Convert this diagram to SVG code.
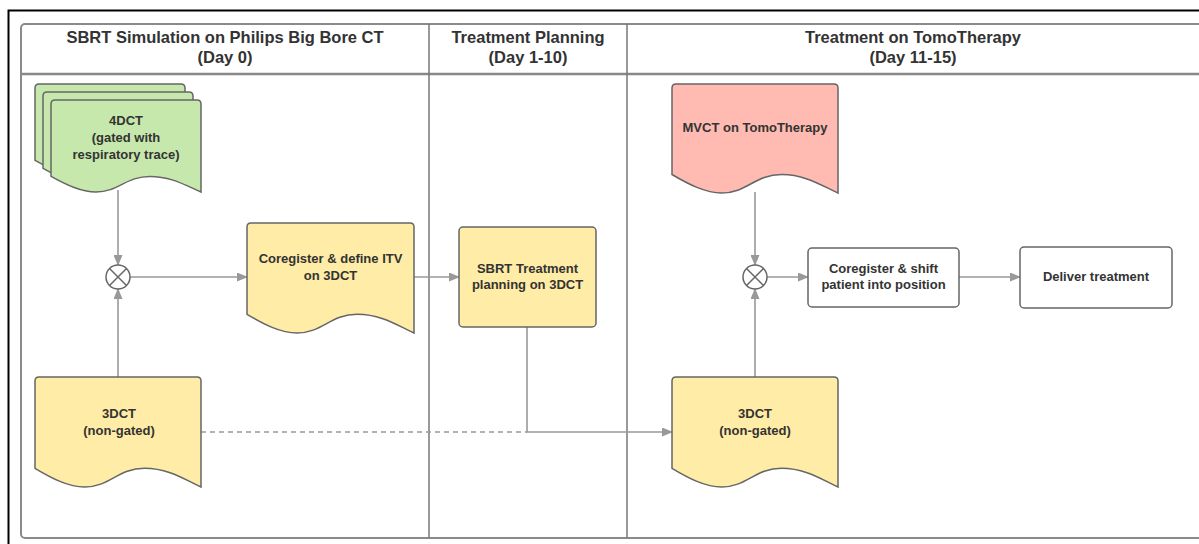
<svg xmlns="http://www.w3.org/2000/svg" width="1199" height="544" viewBox="0 0 1199 544">
<defs>
<style>
.hdr{font-family:"Liberation Sans",Arial,sans-serif;font-weight:bold;font-size:16.5px;fill:#333;text-anchor:middle}
.lbl{font-family:"Liberation Sans",Arial,sans-serif;font-weight:bold;font-size:13px;fill:#333;text-anchor:middle}
.pool{fill:#fff;stroke:#8a8a8a;stroke-width:2}
.lane{stroke:#777;stroke-width:1.5;fill:none}
.green{fill:#c7e8ac;stroke:#666;stroke-width:1.5}
.yellow{fill:#ffeca6;stroke:#666;stroke-width:1.5}
.red{fill:#ffbbb1;stroke:#666;stroke-width:1.5}
.white{fill:#fff;stroke:#666;stroke-width:1.5}
.gate{fill:#fff;stroke:#666;stroke-width:1.5}
.conn{fill:none;stroke:#999;stroke-width:1.6}
.dash{stroke-dasharray:5 4}
</style>
<marker id="arr" markerUnits="userSpaceOnUse" markerWidth="11" markerHeight="9" refX="10" refY="4.5" orient="auto">
<path d="M0,0 L11,4.5 L0,9 z" fill="#999"/>
</marker>
</defs>
<rect width="1199" height="544" fill="#fff"/>
<rect x="8.5" y="10.5" width="1210" height="560" fill="none" stroke="#000" stroke-width="2"/>
<g id="pool">
<rect class="pool" x="21" y="24" width="1200" height="514" rx="4"/>
<line x1="21" y1="74" x2="1199" y2="74" stroke="#888" stroke-width="2.5"/>
<line class="lane" x1="429" y1="24" x2="429" y2="538"/>
<line class="lane" x1="627" y1="24" x2="627" y2="538"/>
<text class="hdr" x="225" y="43">SBRT Simulation on Philips Big Bore CT</text>
<text class="hdr" x="225" y="63">(Day 0)</text>
<text class="hdr" x="528" y="43">Treatment Planning</text>
<text class="hdr" x="528" y="63">(Day 1-10)</text>
<text class="hdr" x="913" y="43">Treatment on TomoTherapy</text>
<text class="hdr" x="913" y="63">(Day 11-15)</text>
</g>
<g id="connectors">
<path class="conn" d="M118,190 L118,265" marker-end="url(#arr)"/>
<path class="conn" d="M118,377 L118,289" marker-end="url(#arr)"/>
<path class="conn" d="M130,277 L247,277" marker-end="url(#arr)"/>
<path class="conn" d="M414,277 L459,277" marker-end="url(#arr)"/>
<path class="conn" d="M527,327 L527,432 L672,432" marker-end="url(#arr)"/>
<path class="conn dash" d="M201,432 L527,432"/>
<path class="conn" d="M755,192 L755,265" marker-end="url(#arr)"/>
<path class="conn" d="M755,377 L755,289" marker-end="url(#arr)"/>
<path class="conn" d="M767,277 L808,277" marker-end="url(#arr)"/>
<path class="conn" d="M959,277 L1020,277" marker-end="url(#arr)"/>
</g>
<g id="n4dct">
<path class="green" d="M35,160.4 L35,88 Q35,84 39,84 L181,84 Q185,84 185,88 L185,176 C170,169.6 155,160.4 134,160.4 C110,160.4 102.5,176 80,176 C65,176 50,168.6 35,160.4 Z"/>
<path class="green" d="M43,168.4 L43,96 Q43,92 47,92 L189,92 Q193,92 193,96 L193,184 C178,177.6 163,168.4 142,168.4 C118,168.4 110.5,184 88,184 C73,184 58,176.6 43,168.4 Z"/>
<path class="green" d="M51,176.4 L51,104 Q51,100 55,100 L197,100 Q201,100 201,104 L201,192 C186,185.6 171,176.4 150,176.4 C126,176.4 118.5,192 96,192 C81,192 66,184.6 51,176.4 Z"/>
<text class="lbl" x="126" y="125">4DCT</text>
<text class="lbl" x="126" y="142">(gated with</text>
<text class="lbl" x="126" y="159">respiratory trace)</text>
</g>
<g id="gate1">
<circle class="gate" cx="118" cy="277" r="12"/>
<path d="M109.5,268.5 L126.5,285.5 M126.5,268.5 L109.5,285.5" stroke="#666" stroke-width="1.5"/>
</g>
<g id="n3dct1">
<path class="yellow" d="M35,468.3 L35,381 Q35,377 39,377 L197,377 Q201,377 201,381 L201,487 C184.4,479.3 167.8,468.3 144.6,468.3 C118,468.3 109.7,487 84.8,487 C68.2,487 51.6,478.2 35,468.3 Z"/>
<text class="lbl" x="119" y="418">3DCT</text>
<text class="lbl" x="119" y="435">(non-gated)</text>
</g>
<g id="ncoreg">
<path class="yellow" d="M247,314.3 L247,227 Q247,223 251,223 L410,223 Q414,223 414,227 L414,333 C397.3,325.3 380.6,314.3 357.2,314.3 C330.5,314.3 322.2,333 297.1,333 C280.4,333 263.7,324.2 247,314.3 Z"/>
<text class="lbl" x="330.5" y="263">Coregister &amp; define ITV</text>
<text class="lbl" x="330.5" y="280">on 3DCT</text>
</g>
<g id="nplan">
<rect class="yellow" x="459" y="227" width="137" height="100" rx="4"/>
<text class="lbl" x="527.5" y="273">SBRT Treatment</text>
<text class="lbl" x="527.5" y="289">planning on 3DCT</text>
</g>
<g id="nmvct">
<path class="red" d="M672,174.5 L672,88 Q672,84 676,84 L834,84 Q838,84 838,88 L838,193 C821.4,185.4 804.8,174.5 781.6,174.5 C755,174.5 746.7,193 721.8,193 C705.2,193 688.6,184.3 672,174.5 Z"/>
<text class="lbl" x="755" y="132">MVCT on TomoTherapy</text>
</g>
<g id="n3dct2">
<path class="yellow" d="M672,468.3 L672,381 Q672,377 676,377 L834,377 Q838,377 838,381 L838,487 C821.4,479.3 804.8,468.3 781.6,468.3 C755,468.3 746.7,487 721.8,487 C705.2,487 688.6,478.2 672,468.3 Z"/>
<text class="lbl" x="755" y="418">3DCT</text>
<text class="lbl" x="755" y="435">(non-gated)</text>
</g>
<g id="gate2">
<circle class="gate" cx="755" cy="277" r="12"/>
<path d="M746.5,268.5 L763.5,285.5 M763.5,268.5 L746.5,285.5" stroke="#666" stroke-width="1.5"/>
</g>
<g id="nshift">
<rect class="white" x="808" y="248" width="151" height="59" rx="4"/>
<text class="lbl" x="883.5" y="273">Coregister &amp; shift</text>
<text class="lbl" x="883.5" y="289">patient into position</text>
</g>
<g id="ndeliver">
<rect class="white" x="1020" y="247" width="152" height="61" rx="4"/>
<text class="lbl" x="1096" y="281">Deliver treatment</text>
</g>
</svg>
